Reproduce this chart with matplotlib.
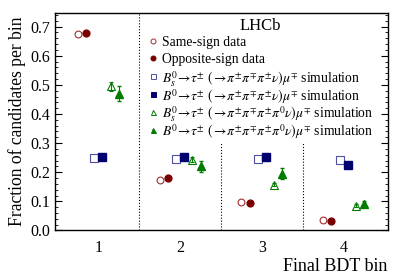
import matplotlib
matplotlib.use("Agg")
import matplotlib.pyplot as plt
from matplotlib.ticker import MultipleLocator
import numpy as np

plt.rcParams['font.family'] = ['Liberation Serif', 'DejaVu Serif']
plt.rcParams['mathtext.fontset'] = 'stix'

bins = [1, 2, 3, 4]
offsets = [-0.25, -0.15, -0.05, 0.05, 0.15, 0.25]

ss_data = [0.675, 0.175, 0.099, 0.037]
os_data = [0.678, 0.179, 0.095, 0.033]
bs_3pi = [0.249, 0.246, 0.246, 0.243]
b0_3pi = [0.252, 0.252, 0.252, 0.226]
bs_3pipi0 = [0.495, 0.243, 0.157, 0.085]
bs_3pipi0_err = [0.015, 0.008, 0.006, 0.006]
b0_3pipi0 = [0.470, 0.220, 0.195, 0.090]
b0_3pipi0_err = [0.025, 0.018, 0.018, 0.010]

labels = [
    "Same-sign data",
    "Opposite-sign data",
    r"$B_s^0\!\rightarrow\!\tau^{\pm}\ (\rightarrow\!\pi^{\pm}\pi^{\mp}\pi^{\pm}\nu)\mu^{\mp}$ simulation",
    r"$B^0\!\rightarrow\!\tau^{\pm}\ (\rightarrow\!\pi^{\pm}\pi^{\mp}\pi^{\pm}\nu)\mu^{\mp}$ simulation",
    r"$B_s^0\!\rightarrow\!\tau^{\pm}\ (\rightarrow\!\pi^{\pm}\pi^{\mp}\pi^{\pm}\pi^0\nu)\mu^{\mp}$ simulation",
    r"$B^0\!\rightarrow\!\tau^{\pm}\ (\rightarrow\!\pi^{\pm}\pi^{\mp}\pi^{\pm}\pi^0\nu)\mu^{\mp}$ simulation",
]

red = '#7a0000'
blue = '#00006e'
green = '#007a00'

# marker style per series: (marker, face, edge)
styles = [
    ('o', 'none', '#a03030'),
    ('o', red, red),
    ('s', 'none', '#5050a0'),
    ('s', blue, blue),
    ('^', 'none', green),
    ('^', green, green),
]

fig, ax = plt.subplots(figsize=(4.07, 2.76), dpi=100)
fig.subplots_adjust(left=0.135, right=0.953, top=0.953, bottom=0.165)

x = np.array(bins, dtype=float)
ax.plot(x + offsets[0], ss_data, 'o', ms=4.9, mfc='none', mec='#a03030', mew=0.8)
ax.plot(x + offsets[1], os_data, 'o', ms=4.9, color=red)
ax.plot(x + offsets[2], bs_3pi, 's', ms=5.2, mfc='none', mec='#5050a0', mew=0.8)
ax.plot(x + offsets[3], b0_3pi, 's', ms=5.2, color=blue)
ax.errorbar(x + offsets[4], bs_3pipi0, yerr=bs_3pipi0_err, fmt='^', ms=5.2, mfc='none',
            mec=green, ecolor=green, elinewidth=0.8, capsize=1.5, mew=0.8)
ax.errorbar(x + offsets[5], b0_3pipi0, yerr=b0_3pipi0_err, fmt='^', ms=5.2, color=green,
            elinewidth=0.8, capsize=1.5)

ax.axvline(1.5, color='k', ls=':', lw=0.8)
ax.plot([2.5, 2.5], [0, 0.30], color='k', ls=':', lw=0.8)
ax.plot([3.5, 3.5], [0, 0.30], color='k', ls=':', lw=0.8)

ax.set_xlim(0.47, 4.54)
ax.set_ylim(0, 0.747)
ax.set_xticks(bins)
ax.set_xticklabels([str(b) for b in bins])
ax.yaxis.set_major_locator(MultipleLocator(0.1))
ax.yaxis.set_minor_locator(MultipleLocator(0.02))
ax.tick_params(axis='y', which='both', direction='in', left=True, right=True, labelsize=11.5)
ax.tick_params(axis='y', which='major', length=5)
ax.tick_params(axis='y', which='minor', length=2.5)
ax.tick_params(axis='x', length=0, labelsize=11.5, pad=7)
for s in ax.spines.values():
    s.set_linewidth(1.0)

ax.set_ylabel("Fraction of candidates per bin", fontsize=12.7, labelpad=3)
ax.set_xlabel("Final BDT bin", fontsize=13, loc='right', labelpad=1)

# hand-built legend with even row spacing
ax.text(0.617, 0.938, "LHCb", transform=ax.transAxes, ha='center', va='center', fontsize=12)
row0, step = 0.873, 0.0818
for i, (lab, (m, fc, ec)) in enumerate(zip(labels, styles)):
    yy = row0 - i * step
    ax.plot([0.294], [yy], m, ms=3.6, mfc=fc, mec=ec, mew=0.7, transform=ax.transAxes,
            clip_on=False)
    ax.text(0.321, yy, lab, transform=ax.transAxes, ha='left', va='center_baseline',
            fontsize=9.8)

fig.savefig("out.png", dpi=100)
